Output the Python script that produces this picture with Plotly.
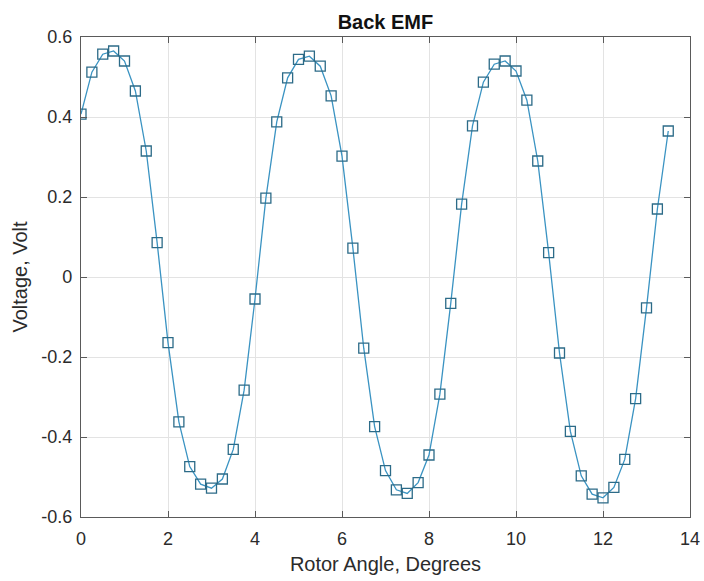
import plotly.graph_objects as go

# Rotor angle samples (degrees) and measured back EMF (volts)
angle_deg = [i * 0.25 for i in range(55)]
emf_volt = [
    0.407, 0.512, 0.557, 0.565, 0.540, 0.465, 0.315, 0.086,
    -0.164, -0.362, -0.474, -0.518, -0.528, -0.505, -0.431, -0.283, -0.055,
    0.197, 0.388, 0.498, 0.544, 0.552, 0.527, 0.453, 0.302, 0.072,
    -0.178, -0.374, -0.484, -0.532, -0.541, -0.514, -0.445, -0.293, -0.066,
    0.182, 0.378, 0.487, 0.532, 0.540, 0.515, 0.442, 0.290, 0.061,
    -0.190, -0.386, -0.497, -0.543, -0.552, -0.526, -0.456, -0.304, -0.077,
    0.170, 0.365,
]

x_ticks = [0, 2, 4, 6, 8, 10, 12, 14]
x_tick_text = ["0", "2", "4", "6", "8", "10", "12", "14"]
y_ticks = [-0.6, -0.4, -0.2, 0, 0.2, 0.4, 0.6]
y_tick_text = ["-0.6", "-0.4", "-0.2", "0", "0.2", "0.4", "0.6"]

FONT = "Liberation Sans, Arial, sans-serif"
TEXT = "#2b2b2b"
FRAME = "#5a5a5a"
GRID = "#e3e3e3"

fig = go.Figure()
fig.add_trace(go.Scatter(
    x=angle_deg,
    y=emf_volt,
    mode="lines+markers",
    line=dict(color="#3a93c2", width=1.3),
    marker=dict(symbol="square-open", size=10, color="#2c6b88",
                line=dict(width=1.3)),
    showlegend=False,
))

axis_common = dict(
    showline=True, linecolor=FRAME, linewidth=1.3, mirror="ticks",
    ticks="inside", ticklen=6, tickwidth=1, tickcolor=FRAME,
    showgrid=True, gridcolor=GRID, gridwidth=1,
    zeroline=False, automargin=False,
    tickfont=dict(family=FONT, size=18, color=TEXT),
)

fig.update_layout(
    width=704, height=581,
    margin=dict(l=81, r=14, t=37, b=64),
    paper_bgcolor="white", plot_bgcolor="white",
    title=dict(text="<b>Back EMF</b>", x=0.5475, xanchor="center",
               y=0.962, yanchor="middle",
               font=dict(family=FONT, size=20, color="#111111")),
    xaxis=dict(range=[0, 14], tickvals=x_ticks, ticktext=x_tick_text,
               ticklabelstandoff=5,
               title=dict(text="Rotor Angle, Degrees", standoff=9,
                          font=dict(family=FONT, size=20, color=TEXT)),
               **axis_common),
    yaxis=dict(range=[-0.6, 0.6], tickvals=y_ticks, ticktext=y_tick_text,
               ticklabelstandoff=4,
               title=dict(text="Voltage, Volt", standoff=8,
                          font=dict(family=FONT, size=20, color=TEXT)),
               **axis_common),
)

fig.write_html("out.html")
